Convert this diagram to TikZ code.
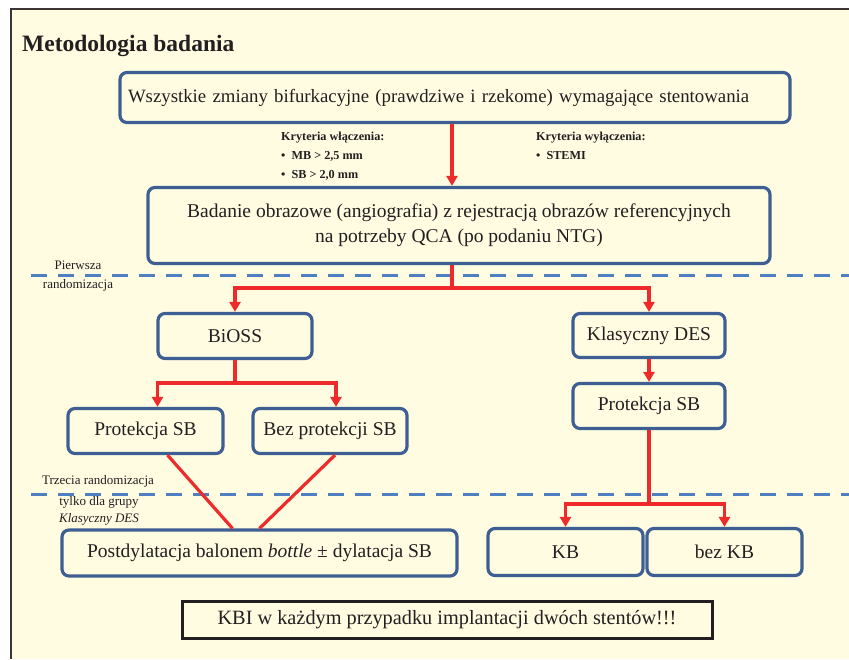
\documentclass[tikz,border=0pt]{standalone}
\usepackage{fontspec}
\setmainfont{Liberation Serif}
\usetikzlibrary{arrows.meta}
\definecolor{paper}{HTML}{FFFCE1}
\definecolor{boxblue}{HTML}{3E5F94}
\definecolor{dashblue}{HTML}{4F7FC1}
\definecolor{linered}{HTML}{EE2A2A}
\definecolor{ink}{HTML}{231F20}

\begin{document}
\begin{tikzpicture} [x=1pt, y=-1pt,
            box/.style = {draw=boxblue, line width=3.2pt, rounded corners=7pt,
                text=ink, inner sep=0pt, font=\fontsize{19.5}{25}\selectfont},
            flow/.style = {draw=linered, line width=3.2pt,
                -{Triangle[width=11pt,length=10pt]}},
            link/.style = {draw=linered, line width=3.2pt},
            rand/.style = {draw=dashblue, line width=3pt,
                dash pattern=on 16pt off 11pt},
            note/.style = {text=ink, inner sep=0pt, align=center,
                font=\fontsize{13}{17}\selectfont},
            crit/.style = {text=ink, inner sep=0pt, align=left,
                anchor=north west, font=\bfseries\fontsize{12.2}{19}\selectfont}]

        \useasboundingbox (0,0) rectangle (849,659);
        \fill[white] (0,0) rectangle (849,659);

        % Page
        \fill[paper] (11,9) rectangle (849,659);
        \draw[ink!90, line width=1.6pt] (11,659) -- (11,9) -- (849,9);

        % Title
        \node (title) [anchor=base west, inner sep=0pt, text=ink,
            font=\bfseries\fontsize{23.5}{28}\selectfont] at (22,51)
            {Metodologia badania};

        % Box all lesions
        \node (all) [box, minimum width=670pt, minimum height=50pt,
            text width=654pt, align=left,
            font=\fontsize{18.8}{25}\selectfont] at (455,97.5)
            {Wszystkie zmiany bifurkacyjne (prawdziwe i rzekome) wymagające stentowania};

        % Criteria
        \node (incl) [crit] at (281,132)
            {Kryteria włączenia:\\\textbullet\enspace MB > 2,5 mm\\\textbullet\enspace SB > 2,0 mm};
        \node (excl) [crit] at (536,132)
            {Kryteria wyłączenia:\\\textbullet\enspace STEMI};

        % Box imaging
        \node (imaging) [box, minimum width=622pt, minimum height=76pt,
            align=center] at (459,225.5)
            {Badanie obrazowe (angiografia) z rejestracją obrazów referencyjnych\\
             na potrzeby QCA (po podaniu NTG)};

        % Randomization lines
        \draw[rand] (31,275) -- (849,275);
        \draw[rand] (31,494) -- (849,494);
        \node (first) [note] at (78,265) {Pierwsza};
        \node (firstb) [note] at (78,285) {randomizacja};
        \node (third) [note] at (98,481) {Trzecia randomizacja};
        \node (thirdb) [note] at (99,511) {tylko dla grupy\\\textit{Klasyczny DES}};

        % Box BiOSS
        \node (bioss) [box, minimum width=154pt, minimum height=45pt]
            at (235,336) {BiOSS};

        % Box Klasyczny DES
        \node (des) [box, minimum width=152pt, minimum height=44pt]
            at (649,335.5) {Klasyczny DES};

        % Box Protekcja SB (left)
        \node (protl) [box, minimum width=155pt, minimum height=45pt]
            at (145.5,431) {Protekcja SB};

        % Box Bez protekcji SB
        \node (noprot) [box, minimum width=154pt, minimum height=45pt]
            at (330,431) {Bez protekcji SB};

        % Box Protekcja SB (right)
        \node (protr) [box, minimum width=152pt, minimum height=45pt]
            at (649,406) {Protekcja SB};

        % Box Postdylatacja
        \node (postdil) [box, minimum width=395pt, minimum height=46pt]
            at (259.5,553) {Postdylatacja balonem \textit{bottle} ± dylatacja SB};

        % Box KB
        \node (kb) [box, minimum width=155pt, minimum height=47pt]
            at (565.5,552) {KB};

        % Box bez KB
        \node (nokb) [box, minimum width=155pt, minimum height=47pt]
            at (724.5,552) {bez KB};

        % Box KBI
        \node (kbi) [draw=ink, line width=3pt, text=ink, inner sep=0pt,
            minimum width=530pt, minimum height=37pt,
            font=\fontsize{20.3}{25}\selectfont] at (447,619.5)
            {KBI w każdym przypadku implantacji dwóch stentów!!!};

        % Forks
        \coordinate (fork1) at (452,288);
        \coordinate (fork2) at (235,383);
        \coordinate (fork3) at (649,504);

        % Arrows
        \draw[flow] (all.south -| fork1) -- (imaging.north -| fork1);
        \draw[link] (imaging.south -| fork1) -- (fork1);
        \draw[flow] (fork1) -| (bioss.north);
        \draw[flow] (fork1) -| (des.north);
        \draw[link] (bioss.south) -- (fork2);
        \draw[flow] (fork2) -| ([xshift=12pt]protl.north);
        \draw[flow] (fork2) -| ([xshift=6pt]noprot.north);
        \draw[flow] (des.south) -- (protr.north);
        \draw[link] (protr.south) -- (fork3);
        \draw[flow] (fork3) -| (kb.north);
        \draw[flow] (fork3) -| (nokb.north);
        \draw[link] ([xshift=22pt]protl.south) -- ([xshift=-27pt]postdil.north);
        \draw[link] ([xshift=5pt]noprot.south) -- (postdil.north);
        \end{tikzpicture}
\end{document}
